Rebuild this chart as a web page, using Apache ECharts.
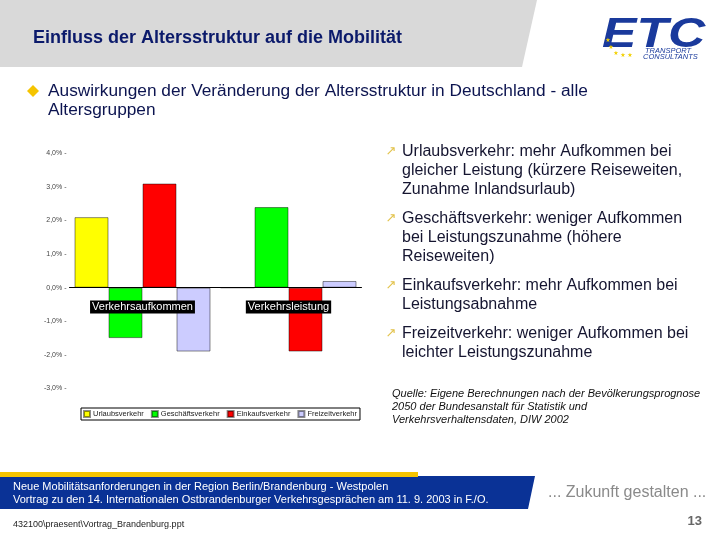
<!DOCTYPE html>
<html><head><meta charset="utf-8">
<script src="https://cdn.jsdelivr.net/npm/echarts@6/dist/echarts.min.js"></script>
<style>html,body{margin:0;padding:0;background:#fff}#c{width:720px;height:540px}</style>
</head><body><div id="c"></div>
<script>
// ---- data ----
const categories = ['Verkehrsaufkommen', 'Verkehrsleistung'];
const seriesNames = ['Urlaubsverkehr', 'Geschäftsverkehr', 'Einkaufsverkehr', 'Freizeitverkehr'];
const urlaub = [2.1, 0.0];
const geschaeft = [-1.5, 2.4];
const einkauf = [3.1, -1.9];
const freizeit = [-1.9, 0.2];
const seriesColors = ['#FFFF00', '#00FF00', '#FF0000', '#CCCCFF'];
const yMin = -3, yMax = 4, yStep = 1;

const titleText = 'Einfluss der Altersstruktur auf die Mobilität';
const headLines = ['Auswirkungen der Veränderung der Altersstruktur in Deutschland - alle', 'Altersgruppen'];
const bullets = [
  ['Urlaubsverkehr: mehr Aufkommen bei', 'gleicher Leistung (kürzere Reiseweiten,', 'Zunahme Inlandsurlaub)'],
  ['Geschäftsverkehr: weniger Aufkommen', 'bei Leistungszunahme (höhere', 'Reiseweiten)'],
  ['Einkaufsverkehr: mehr Aufkommen bei', 'Leistungsabnahme'],
  ['Freizeitverkehr: weniger Aufkommen bei', 'leichter Leistungszunahme']
];
const sourceLines = ['Quelle: Eigene Berechnungen nach der Bevölkerungsprognose', '2050 der Bundesanstalt für Statistik und', 'Verkehrsverhaltensdaten, DIW 2002'];
const footerLines = ['Neue Mobilitätsanforderungen in der Region Berlin/Brandenburg - Westpolen', 'Vortrag zu den 14. Internationalen Ostbrandenburger Verkehrsgesprächen am 11. 9. 2003 in F./O.'];
const slogan = '... Zukunft gestalten ...';
const fileName = '432100\\praesent\\Vortrag_Brandenburg.ppt';
const pageNo = '13';

const values = [urlaub, geschaeft, einkauf, freizeit];
const chart = echarts.init(document.getElementById('c'));
const FF = '"Liberation Sans", Arial, sans-serif';

const graphics = [];
// header band
graphics.push({type:'polygon', shape:{points:[[0,0],[537,0],[522,67],[0,67]]}, style:{fill:'#d9d9d9'}, z:-1});
graphics.push({type:'text', x:33, y:38, style:{text:titleText, font:'bold 18px '+FF, fill:'#0b1a6b', textVerticalAlign:'middle'}});
// logo
graphics.push({type:'text', x:602, y:35, scaleX:1.2, style:{text:'ETC', font:'italic bold 43px '+FF, fill:'#1a3a9c', textVerticalAlign:'middle'}});
graphics.push({type:'text', x:645, y:51, style:{text:'TRANSPORT', font:'italic 7.5px '+FF, fill:'#1a3a9c', textVerticalAlign:'middle'}});
graphics.push({type:'text', x:643, y:57, style:{text:'CONSULTANTS', font:'italic 7.5px '+FF, fill:'#1a3a9c', textVerticalAlign:'middle'}});
[[608,40],[611,47],[616,53],[623,55],[630,55]].forEach(p=>graphics.push({type:'text', x:p[0], y:p[1], style:{text:'★', font:'6px "DejaVu Sans"', fill:'#f2d000', textAlign:'center', textVerticalAlign:'middle'}}));
// main bullet
graphics.push({type:'polygon', shape:{points:[[33,85],[39,91],[33,97],[27,91]]}, style:{fill:'#f5c400'}});
headLines.forEach((t,i)=>graphics.push({type:'text', x:48, y:91+i*19, style:{text:t, font:'17.3px '+FF, fill:'#0c1450', textVerticalAlign:'middle'}}));
// right bullets
let yy = 152;
bullets.forEach(b=>{
  graphics.push({type:'text', x:391, y:yy, style:{text:'↗', font:'13px "DejaVu Sans"', fill:'#e2c24a', textAlign:'center', textVerticalAlign:'middle'}});
  b.forEach((t,i)=>graphics.push({type:'text', x:402, y:yy+i*19, style:{text:t, font:'16px '+FF, fill:'#151530', textVerticalAlign:'middle'}}));
  yy += b.length*19 + 10;
});
sourceLines.forEach((t,i)=>graphics.push({type:'text', x:392, y:394+i*13, style:{text:t, font:'italic 11px '+FF, fill:'#111', textVerticalAlign:'middle'}}));
// footer
graphics.push({type:'polygon', shape:{points:[[0,476],[535,476],[528,509],[0,509]]}, style:{fill:'#0a3296'}});
graphics.push({type:'rect', shape:{x:0,y:472,width:418,height:5}, style:{fill:'#f5c400'}});
footerLines.forEach((t,i)=>graphics.push({type:'text', x:13, y:487+i*13, style:{text:t, font:'11px '+FF, fill:'#ffffff', textVerticalAlign:'middle'}}));
graphics.push({type:'text', x:548, y:493, style:{text:slogan, font:'16px '+FF, fill:'#8a8a8a', textVerticalAlign:'middle'}});
graphics.push({type:'text', x:13, y:525, style:{text:fileName, font:'9px '+FF, fill:'#222', textVerticalAlign:'middle'}});
graphics.push({type:'text', x:702, y:521, style:{text:pageNo, font:'bold 13px '+FF, fill:'#666', textAlign:'right', textVerticalAlign:'middle'}});

chart.setOption({
  animation:false,
  backgroundColor:'#fff',
  grid:{left:69.5, right:358.5, top:153.3, bottom:151.5, containLabel:false},
  legend:{
    left:81, top:408,
    data:seriesNames,
    icon:'rect', itemWidth:6, itemHeight:6, itemGap:7,
    padding:[2,3,2,2], borderColor:'#000', borderWidth:1,
    textStyle:{fontSize:7.5, color:'#222', fontFamily:FF, padding:[0,0,0,-2]}
  },
  xAxis:{
    type:'category', data:categories, z:10,
    axisLine:{onZero:true, lineStyle:{color:'#000', width:1}},
    axisTick:{show:false},
    axisLabel:{color:'#fff', backgroundColor:'#000', fontSize:11, fontFamily:FF, padding:[1,2,1,2], margin:-88, interval:0}
  },
  yAxis:{
    type:'value', min:yMin, max:yMax, interval:yStep,
    axisLine:{show:false}, axisTick:{show:false}, splitLine:{show:false},
    axisLabel:{fontSize:7, color:'#444', fontFamily:FF, margin:3,
      formatter:v=>v.toFixed(1).replace('.',',')+'% -'}
  },
  series: seriesNames.map((n,i)=>({
    name:n, type:'bar', data:values[i], barWidth:34, barGap:'0%', z:2,
    itemStyle:{color:seriesColors[i], borderColor:'rgba(0,0,0,0.45)', borderWidth:1}
  })),
  graphic:graphics
});
</script></body></html>
